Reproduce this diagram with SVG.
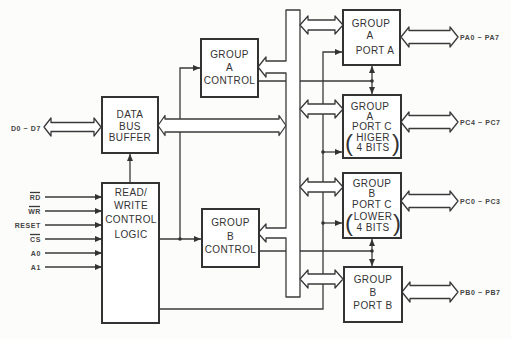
<svg xmlns="http://www.w3.org/2000/svg" width="511" height="339" viewBox="0 0 511 339">
<defs>
<style>
.box{fill:#fff;stroke:#333;stroke-width:2}
.ln{fill:none;stroke:#3a3a3a;stroke-width:1.3}
.ha{fill:#fff;stroke:#3a3a3a;stroke-width:1.3;stroke-linejoin:round}
.t{font-family:"Liberation Sans",Arial,sans-serif;font-size:10px;fill:#333;text-anchor:middle;letter-spacing:0.4px}
.s{font-family:"Liberation Sans",Arial,sans-serif;font-size:7px;font-weight:bold;fill:#444;letter-spacing:0.6px}
.p{font-family:"Liberation Sans",Arial,sans-serif;font-size:24px;fill:#333;text-anchor:middle}
.dot{fill:#333}
</style>
<marker id="ar" markerWidth="7" markerHeight="6" refX="7" refY="3" orient="auto" markerUnits="userSpaceOnUse">
<path d="M0,0 L7,3 L0,6 Z" fill="#333"/>
</marker>
<marker id="as" markerWidth="7" markerHeight="6" refX="0" refY="3" orient="auto" markerUnits="userSpaceOnUse">
<path d="M7,0 L0,3 L7,6 Z" fill="#333"/>
</marker>
</defs>
<rect width="511" height="339" fill="#fcfcfb"/>

<g id="connectors">
<line class="ln" x1="45" y1="197" x2="102" y2="197" marker-end="url(#ar)"/>
<line class="ln" x1="45" y1="211" x2="102" y2="211" marker-end="url(#ar)"/>
<line class="ln" x1="45" y1="225" x2="102" y2="225" marker-end="url(#ar)"/>
<line class="ln" x1="45" y1="239" x2="102" y2="239" marker-end="url(#ar)"/>
<line class="ln" x1="45" y1="253" x2="102" y2="253" marker-end="url(#ar)"/>
<line class="ln" x1="45" y1="267" x2="102" y2="267" marker-end="url(#ar)"/>
<line class="ln" x1="130" y1="183" x2="130" y2="154" marker-end="url(#ar)"/>
<line class="ln" x1="159" y1="239" x2="201" y2="239" marker-end="url(#ar)"/>
<polyline class="ln" points="180,239 180,68 200,68" marker-end="url(#ar)"/>
<circle class="dot" cx="180" cy="239" r="1.8"/>
<polyline class="ln" points="159,309 323,309 323,52 342,52" marker-end="url(#ar)"/>
<line class="ln" x1="323" y1="152" x2="342" y2="152" marker-end="url(#ar)"/>
<circle class="dot" cx="323" cy="152" r="1.8"/>
<line class="ln" x1="323" y1="223" x2="342" y2="223" marker-end="url(#ar)"/>
<circle class="dot" cx="323" cy="223" r="1.8"/>
<line class="ln" x1="258" y1="81" x2="372" y2="81"/>
<line class="ln" x1="259" y1="251" x2="372" y2="251"/>
<line class="ln" x1="372" y1="66" x2="372" y2="94" marker-start="url(#as)" marker-end="url(#ar)"/>
<circle class="dot" cx="372" cy="81" r="1.8"/>
<line class="ln" x1="372" y1="239" x2="372" y2="266" marker-start="url(#as)" marker-end="url(#ar)"/>
<circle class="dot" cx="372" cy="251" r="1.8"/>
<path class="ha" d="M44,127 L51,118 L51,122.5 L94,122.5 L94,118 L101,127 L94,136 L94,131.5 L51,131.5 L51,136 Z"/>
<path class="ha" d="M158,125.5 L165,115.5 L165,119 L279,119 L279,115.5 L286,125.5 L279,135.5 L279,132 L165,132 L165,135.5 Z"/>
<path class="ha" d="M286,10 L286,61 L266,61 L266,57 L258,67 L266,77 L266,73 L286,73 L286,228 L266,228 L266,224 L258,233 L266,242 L266,238 L286,238 L286,297 L300,297 L300,10 Z"/>
<path class="ha" d="M300,25 L308,16 L308,20 L335,20 L335,16 L343,25 L335,34 L335,30 L308,30 L308,34 Z"/>
<path class="ha" d="M300,109 L308,100 L308,104 L335,104 L335,100 L343,109 L335,118 L335,114 L308,114 L308,118 Z"/>
<path class="ha" d="M300,187 L308,178 L308,182 L335,182 L335,178 L343,187 L335,196 L335,192 L308,192 L308,196 Z"/>
<path class="ha" d="M300,279 L308,270 L308,274 L335,274 L335,270 L343,279 L335,288 L335,284 L308,284 L308,288 Z"/>
<path class="ha" d="M401,37 L409,27 L409,30.5 L450,30.5 L450,27 L458,37 L450,47 L450,43.5 L409,43.5 L409,47 Z"/>
<path class="ha" d="M401,122 L409,112 L409,115.5 L450,115.5 L450,112 L458,122 L450,132 L450,128.5 L409,128.5 L409,132 Z"/>
<path class="ha" d="M401,201 L409,191 L409,194.5 L450,194.5 L450,191 L458,201 L450,211 L450,207.5 L409,207.5 L409,211 Z"/>
<path class="ha" d="M402,292 L410,282 L410,285.5 L450,285.5 L450,282 L458,292 L450,302 L450,298.5 L410,298.5 L410,302 Z"/>
</g>

<g id="labels">
<text class="s" x="41" y="130.5" text-anchor="end">D0 ~ D7</text>
<text class="s" x="41" y="199.5" text-anchor="end">RD</text>
<line class="ln" x1="30" y1="192.5" x2="40" y2="192.5" stroke-width="0.8"/>
<text class="s" x="41" y="213.5" text-anchor="end">WR</text>
<line class="ln" x1="29" y1="206.5" x2="40" y2="206.5" stroke-width="0.8"/>
<text class="s" x="41" y="227.5" text-anchor="end">RESET</text>
<text class="s" x="41" y="241.5" text-anchor="end">CS</text>
<line class="ln" x1="30" y1="234.5" x2="40" y2="234.5" stroke-width="0.8"/>
<text class="s" x="41" y="255.5" text-anchor="end">A0</text>
<text class="s" x="41" y="269.5" text-anchor="end">A1</text>
<text class="s" x="460" y="39.5">PA0 ~ PA7</text>
<text class="s" x="460" y="124.5">PC4 ~ PC7</text>
<text class="s" x="460" y="203.5">PC0 ~ PC3</text>
<text class="s" x="460" y="294.5">PB0 ~ PB7</text>
</g>

<g id="data-bus-buffer">
<rect class="box" x="102" y="97" width="56" height="56"/>
<text class="t" x="130" y="117.6">DATA</text>
<text class="t" x="130" y="129.6">BUS</text>
<text class="t" x="130" y="141">BUFFER</text>
</g>

<g id="read-write-control-logic">
<rect class="box" x="102" y="183" width="57" height="140"/>
<text class="t" x="131" y="195.6">READ/</text>
<text class="t" x="131" y="209">WRITE</text>
<text class="t" x="131" y="222.6">CONTROL</text>
<text class="t" x="131" y="237.6">LOGIC</text>
</g>

<g id="group-a-control">
<rect class="box" x="201" y="39" width="57" height="58"/>
<text class="t" x="229.5" y="57.6">GROUP</text>
<text class="t" x="229.5" y="70.6">A</text>
<text class="t" x="229.5" y="83.6">CONTROL</text>
</g>

<g id="group-b-control">
<rect class="box" x="202" y="209" width="57" height="58"/>
<text class="t" x="230.5" y="225.6">GROUP</text>
<text class="t" x="230.5" y="239.6">B</text>
<text class="t" x="230.5" y="252.6">CONTROL</text>
</g>

<g id="group-a-port-a">
<rect class="box" x="343" y="10" width="57" height="55"/>
<text class="t" x="371" y="26.6">GROUP</text>
<text class="t" x="370" y="38.6">A</text>
<text class="t" x="375" y="53.6">PORT A</text>
</g>

<g id="group-a-port-c">
<rect class="box" x="343" y="95" width="58" height="63"/>
<text class="t" x="370" y="109.6">GROUP</text>
<text class="t" x="370" y="119.6">A</text>
<text class="t" x="372" y="129.6">PORT C</text>
<text class="t" x="373" y="140.6">HIGER</text>
<text class="t" x="373" y="150.6">4 BITS</text>
<text class="p" x="349" y="151">(</text>
<text class="p" x="396" y="151">)</text>
</g>

<g id="group-b-port-c">
<rect class="box" x="343" y="173" width="58" height="65"/>
<text class="t" x="372" y="186.6">GROUP</text>
<text class="t" x="372" y="196.6">B</text>
<text class="t" x="372" y="207.6">PORT C</text>
<text class="t" x="373" y="219.6">LOWER</text>
<text class="t" x="373" y="230.6">4 BITS</text>
<text class="p" x="349" y="231">(</text>
<text class="p" x="397" y="231">)</text>
</g>

<g id="group-b-port-b">
<rect class="box" x="344" y="267" width="58" height="55"/>
<text class="t" x="373" y="282.6">GROUP</text>
<text class="t" x="373" y="295.6">B</text>
<text class="t" x="373" y="308.6">PORT B</text>
</g>
</svg>
